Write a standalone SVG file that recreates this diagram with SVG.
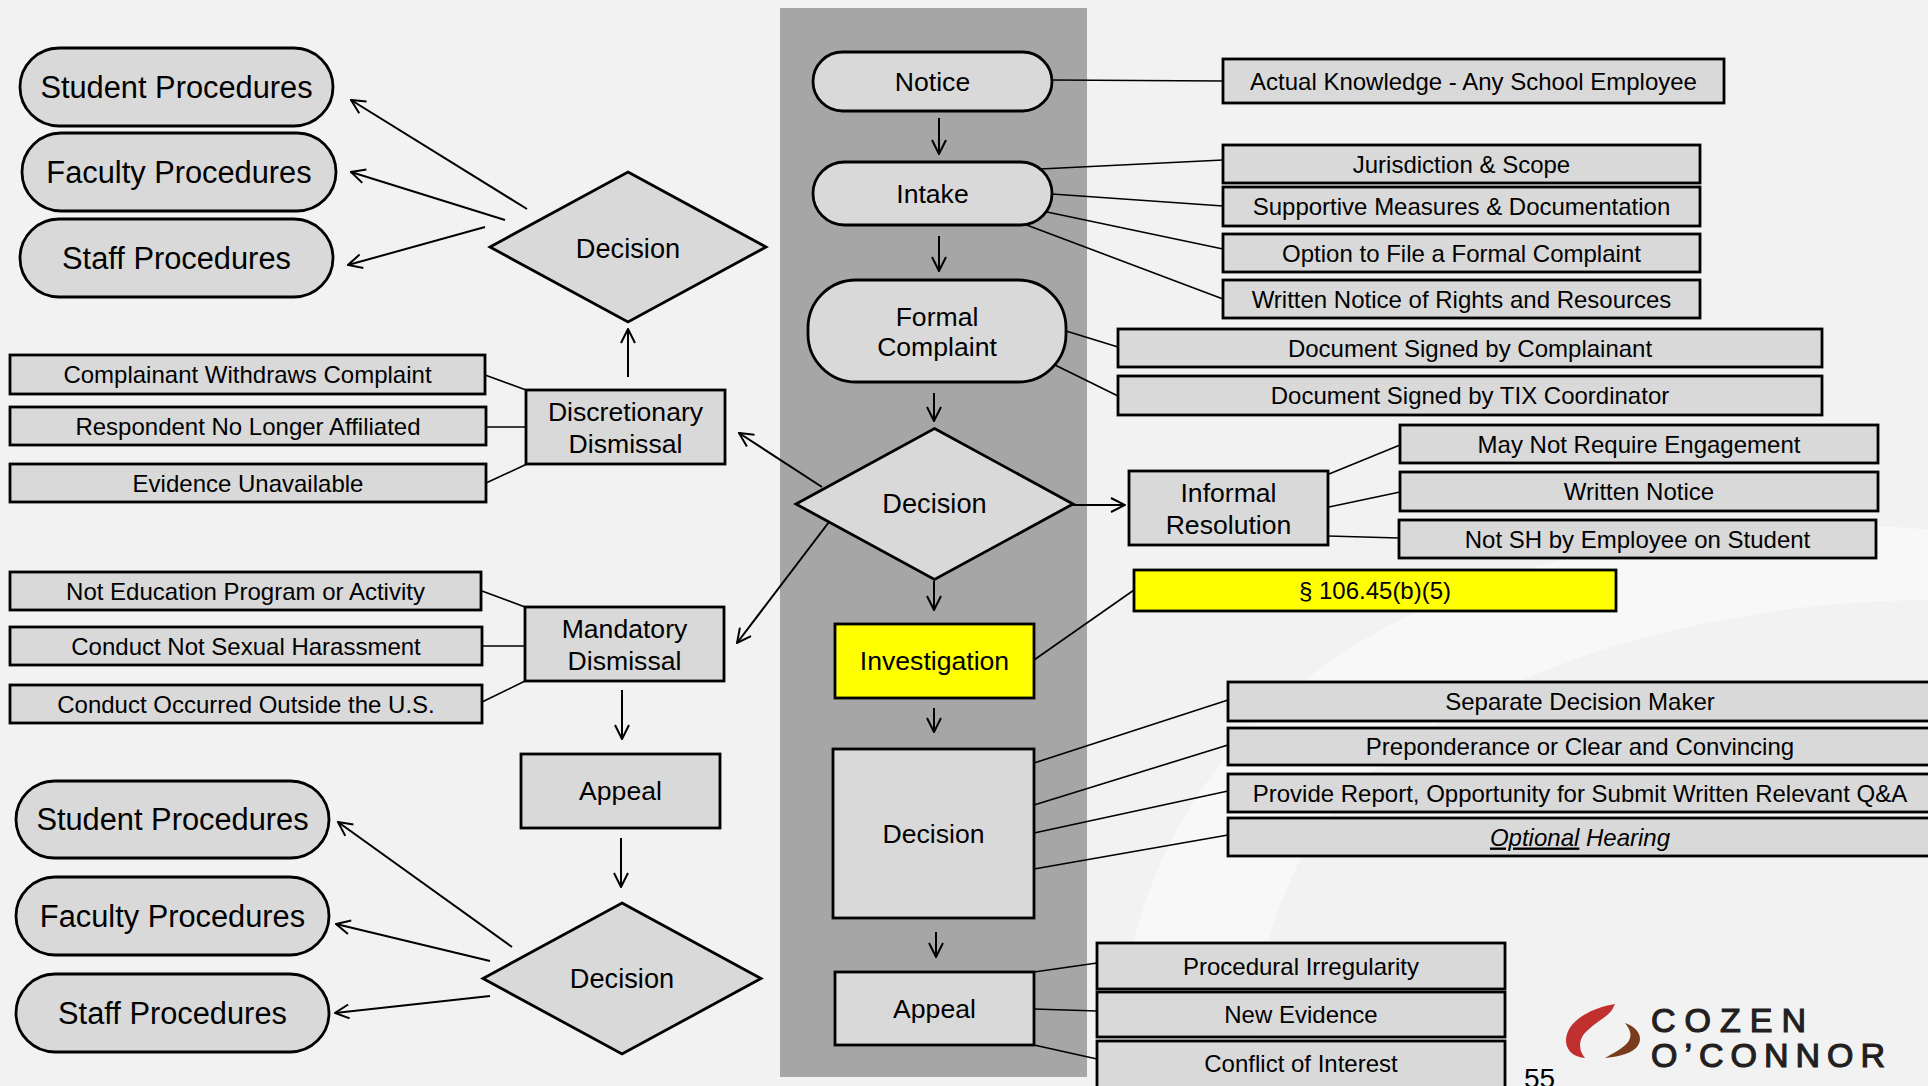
<svg xmlns="http://www.w3.org/2000/svg" width="1928" height="1086" viewBox="0 0 1928 1086">
<defs>
<marker id="arr" viewBox="0 0 16 16" refX="15" refY="8" markerWidth="16" markerHeight="16" markerUnits="userSpaceOnUse" orient="auto">
<path d="M1,1 L15,8 L1,15" fill="none" stroke="#000" stroke-width="2"/>
</marker>
<style>
.box{fill:#d9d9d9;stroke:#000;stroke-width:2.8}
.yel{fill:#ffff00;stroke:#000;stroke-width:2.8}
.t{font-family:"Liberation Sans",Arial,sans-serif;fill:#000;text-anchor:middle}
.s24{font-size:24px}
.s26{font-size:26.6px}
.s27{font-size:27.2px}
.s30{font-size:30.8px}
.ln{stroke:#000;stroke-width:1.6;fill:none}
.ar{stroke:#000;stroke-width:2;fill:none;marker-end:url(#arr)}
</style>
</defs>
<rect x="0" y="0" width="1928" height="1086" fill="#f2f2f2"/>
<path d="M1120,1086 C1110,850 1250,640 1560,560 C1700,525 1850,520 1928,530 L1928,600 C1700,600 1400,680 1300,860 C1260,940 1250,1010 1260,1086 Z" fill="#f8f8f8"/>
<rect x="780" y="8" width="307" height="1069" fill="#a6a6a6"/>

<g id="connectors">
<line class="ln" x1="1052" y1="80" x2="1223" y2="81"/>
<line class="ln" x1="1040" y1="169" x2="1223" y2="160"/>
<line class="ln" x1="1052" y1="194" x2="1223" y2="206"/>
<line class="ln" x1="1047" y1="212" x2="1223" y2="249"/>
<line class="ln" x1="1024" y1="224" x2="1223" y2="299"/>
<line class="ln" x1="1066" y1="331" x2="1118" y2="347"/>
<line class="ln" x1="1053" y1="364" x2="1118" y2="396"/>
<line class="ln" x1="1329" y1="474" x2="1400" y2="445"/>
<line class="ln" x1="1329" y1="507" x2="1400" y2="492"/>
<line class="ln" x1="1328" y1="536" x2="1399" y2="538"/>
<line class="ln" x1="1034" y1="660" x2="1134" y2="590"/>
<line class="ln" x1="1034" y1="763" x2="1228" y2="700"/>
<line class="ln" x1="1034" y1="805" x2="1228" y2="745"/>
<line class="ln" x1="1034" y1="833" x2="1228" y2="791"/>
<line class="ln" x1="1034" y1="869" x2="1228" y2="835"/>
<line class="ln" x1="1034" y1="972" x2="1097" y2="963"/>
<line class="ln" x1="1034" y1="1009" x2="1097" y2="1011"/>
<line class="ln" x1="1034" y1="1045" x2="1097" y2="1059"/>
<line class="ln" x1="485" y1="375" x2="526" y2="390"/>
<line class="ln" x1="486" y1="427" x2="526" y2="427"/>
<line class="ln" x1="486" y1="483" x2="527" y2="464"/>
<line class="ln" x1="482" y1="591" x2="525" y2="607"/>
<line class="ln" x1="482" y1="646" x2="525" y2="646"/>
<line class="ln" x1="480" y1="703" x2="525" y2="681"/>
<line class="ar" x1="939" y1="118" x2="939" y2="154"/>
<line class="ar" x1="939" y1="236" x2="939" y2="271"/>
<line class="ar" x1="934" y1="393" x2="934" y2="421"/>
<line class="ar" x1="934" y1="581" x2="934" y2="610"/>
<line class="ar" x1="934" y1="708" x2="934" y2="732"/>
<line class="ar" x1="936" y1="932" x2="936" y2="957"/>
<line class="ar" x1="1073" y1="505" x2="1125" y2="505"/>
<line class="ar" x1="822" y1="487" x2="739" y2="433"/>
<line class="ar" x1="829" y1="522" x2="737" y2="643"/>
<line class="ar" x1="628" y1="377" x2="628" y2="329"/>
<line class="ar" x1="527" y1="209" x2="351" y2="100"/>
<line class="ar" x1="505" y1="220" x2="351" y2="172"/>
<line class="ar" x1="485" y1="227" x2="348" y2="265"/>
<line class="ar" x1="622" y1="690" x2="622" y2="739"/>
<line class="ar" x1="621" y1="838" x2="621" y2="887"/>
<line class="ar" x1="512" y1="947" x2="338" y2="822"/>
<line class="ar" x1="490" y1="961" x2="336" y2="924"/>
<line class="ar" x1="490" y1="996" x2="335" y2="1013"/>
</g>

<g id="notice"><rect class="box" x="813" y="52" width="239" height="59" rx="29.5"/><text class="t s26" x="932.5" y="91">Notice</text></g>
<g id="intake"><rect class="box" x="813" y="162" width="239" height="63" rx="31.5"/><text class="t s26" x="932.5" y="203">Intake</text></g>
<g id="formal"><rect class="box" x="808" y="280" width="258" height="102" rx="48"/><text class="t s26" x="937" y="326">Formal</text><text class="t s26" x="937" y="356">Complaint</text></g>
<g id="decision-main"><polygon class="box" points="934.5,428.5 1073,504 934.5,579.5 796,504"/><text class="t s27" x="934.5" y="513">Decision</text></g>
<g id="investigation"><rect class="yel" x="835" y="624" width="199" height="74"/><text class="t s26" x="934.5" y="670">Investigation</text></g>
<g id="decision-rect"><rect class="box" x="833" y="749" width="201" height="169"/><text class="t s26" x="933.5" y="843">Decision</text></g>
<g id="appeal-main"><rect class="box" x="835" y="972" width="199" height="73"/><text class="t s26" x="934.5" y="1018">Appeal</text></g>

<g id="actual"><rect class="box" x="1223" y="59" width="501" height="44"/><text class="t s24" x="1473.5" y="89.5">Actual Knowledge - Any School Employee</text></g>
<g id="jurisdiction"><rect class="box" x="1223" y="145" width="477" height="38"/><text class="t s24" x="1461.5" y="172.5">Jurisdiction &amp; Scope</text></g>
<g id="supportive"><rect class="box" x="1223" y="187" width="477" height="39"/><text class="t s24" x="1461.5" y="215">Supportive Measures &amp; Documentation</text></g>
<g id="option"><rect class="box" x="1223" y="234" width="477" height="38"/><text class="t s24" x="1461.5" y="261.5">Option to File a Formal Complaint</text></g>
<g id="written-rights"><rect class="box" x="1223" y="280" width="477" height="38"/><text class="t s24" x="1461.5" y="307.5">Written Notice of Rights and Resources</text></g>
<g id="doc-complainant"><rect class="box" x="1118" y="329" width="704" height="38"/><text class="t s24" x="1470" y="356.5">Document Signed by Complainant</text></g>
<g id="doc-tix"><rect class="box" x="1118" y="376" width="704" height="39"/><text class="t s24" x="1470" y="404">Document Signed by TIX Coordinator</text></g>
<g id="informal"><rect class="box" x="1129" y="471" width="199" height="74"/><text class="t s26" x="1228.5" y="502">Informal</text><text class="t s26" x="1228.5" y="534">Resolution</text></g>
<g id="may-not"><rect class="box" x="1400" y="425" width="478" height="38"/><text class="t s24" x="1639" y="452.5">May Not Require Engagement</text></g>
<g id="written-notice"><rect class="box" x="1400" y="472" width="478" height="39"/><text class="t s24" x="1639" y="500">Written Notice</text></g>
<g id="not-sh"><rect class="box" x="1399" y="520" width="477" height="38"/><text class="t s24" x="1637.5" y="547.5">Not SH by Employee on Student</text></g>
<g id="section"><rect class="yel" x="1134" y="570" width="482" height="41"/><text class="t s24" x="1375" y="599">§ 106.45(b)(5)</text></g>
<g id="separate"><rect class="box" x="1228" y="682" width="706" height="39"/><text class="t s24" x="1580" y="710">Separate Decision Maker</text></g>
<g id="preponderance"><rect class="box" x="1228" y="728" width="706" height="37"/><text class="t s24" x="1580" y="755">Preponderance or Clear and Convincing</text></g>
<g id="provide"><rect class="box" x="1228" y="774" width="706" height="38"/><text class="t s24" x="1580" y="801.5">Provide Report, Opportunity for Submit Written Relevant Q&amp;A</text></g>
<g id="optional"><rect class="box" x="1228" y="818" width="706" height="38"/><text class="t s24" x="1580" y="845.5" font-style="italic"><tspan text-decoration="underline">Optional</tspan> Hearing</text></g>
<g id="procedural"><rect class="box" x="1097" y="943" width="408" height="46"/><text class="t s24" x="1301" y="974.5">Procedural Irregularity</text></g>
<g id="new-evidence"><rect class="box" x="1097" y="992" width="408" height="45"/><text class="t s24" x="1301" y="1023">New Evidence</text></g>
<g id="conflict"><rect class="box" x="1097" y="1041" width="408" height="55"/><text class="t s24" x="1301" y="1072">Conflict of Interest</text></g>

<g id="student-top"><rect class="box" x="20" y="48" width="313" height="78" rx="39"/><text class="t s30" x="176.5" y="98">Student Procedures</text></g>
<g id="faculty-top"><rect class="box" x="22" y="133" width="314" height="78" rx="39"/><text class="t s30" x="179" y="183">Faculty Procedures</text></g>
<g id="staff-top"><rect class="box" x="20" y="219" width="313" height="78" rx="39"/><text class="t s30" x="176.5" y="269">Staff Procedures</text></g>
<g id="decision-top"><polygon class="box" points="628,172 766,247 628,322 490,247"/><text class="t s27" x="628" y="258">Decision</text></g>
<g id="complainant-withdraws"><rect class="box" x="10" y="355" width="475" height="39"/><text class="t s24" x="247.5" y="383">Complainant Withdraws Complaint</text></g>
<g id="respondent"><rect class="box" x="10" y="407" width="476" height="38"/><text class="t s24" x="248" y="434.5">Respondent No Longer Affiliated</text></g>
<g id="evidence"><rect class="box" x="10" y="464" width="476" height="38"/><text class="t s24" x="248" y="491.5">Evidence Unavailable</text></g>
<g id="discretionary"><rect class="box" x="526" y="390" width="199" height="74"/><text class="t s26" x="625.5" y="421">Discretionary</text><text class="t s26" x="625.5" y="453">Dismissal</text></g>
<g id="not-education"><rect class="box" x="10" y="572" width="471" height="38"/><text class="t s24" x="245.5" y="599.5">Not Education Program or Activity</text></g>
<g id="not-sexual"><rect class="box" x="10" y="627" width="472" height="38"/><text class="t s24" x="246" y="654.5">Conduct Not Sexual Harassment</text></g>
<g id="outside-us"><rect class="box" x="10" y="685" width="472" height="38"/><text class="t s24" x="246" y="712.5">Conduct Occurred Outside the U.S.</text></g>
<g id="mandatory"><rect class="box" x="525" y="607" width="199" height="74"/><text class="t s26" x="624.5" y="638">Mandatory</text><text class="t s26" x="624.5" y="670">Dismissal</text></g>
<g id="appeal-left"><rect class="box" x="521" y="754" width="199" height="74"/><text class="t s26" x="620.5" y="800">Appeal</text></g>
<g id="decision-bottom"><polygon class="box" points="622,903 761,978.5 622,1054 483,978.5"/><text class="t s27" x="622" y="988">Decision</text></g>
<g id="student-bottom"><rect class="box" x="16" y="781" width="313" height="77" rx="38.5"/><text class="t s30" x="172.5" y="830">Student Procedures</text></g>
<g id="faculty-bottom"><rect class="box" x="16" y="877" width="313" height="78" rx="39"/><text class="t s30" x="172.5" y="927">Faculty Procedures</text></g>
<g id="staff-bottom"><rect class="box" x="16" y="974" width="313" height="78" rx="39"/><text class="t s30" x="172.5" y="1024">Staff Procedures</text></g>

<g id="footer">
<text x="1524" y="1088" font-family="Liberation Sans, Arial, sans-serif" font-size="28" fill="#000">55</text>
<path d="M1615,1004 C1590,1008 1565,1022 1566,1042 C1567,1052 1575,1057 1585,1058 C1578,1050 1578,1038 1588,1030 C1596,1022 1606,1018 1612,1010 Z" fill="#c0302e"/>
<path d="M1625,1023 C1640,1028 1644,1040 1636,1048 C1628,1055 1615,1057 1605,1058 C1615,1052 1628,1046 1630,1038 C1632,1032 1628,1027 1625,1023 Z" fill="#7a3b1c"/>
<text font-family="Liberation Sans, Arial, sans-serif" font-size="34" fill="#231f20" stroke="#231f20" stroke-width="1.2"><tspan x="1651" y="1032" letter-spacing="9">COZEN</tspan><tspan x="1651" y="1067" letter-spacing="7">O’CONNOR</tspan></text>
</g>
</svg>
